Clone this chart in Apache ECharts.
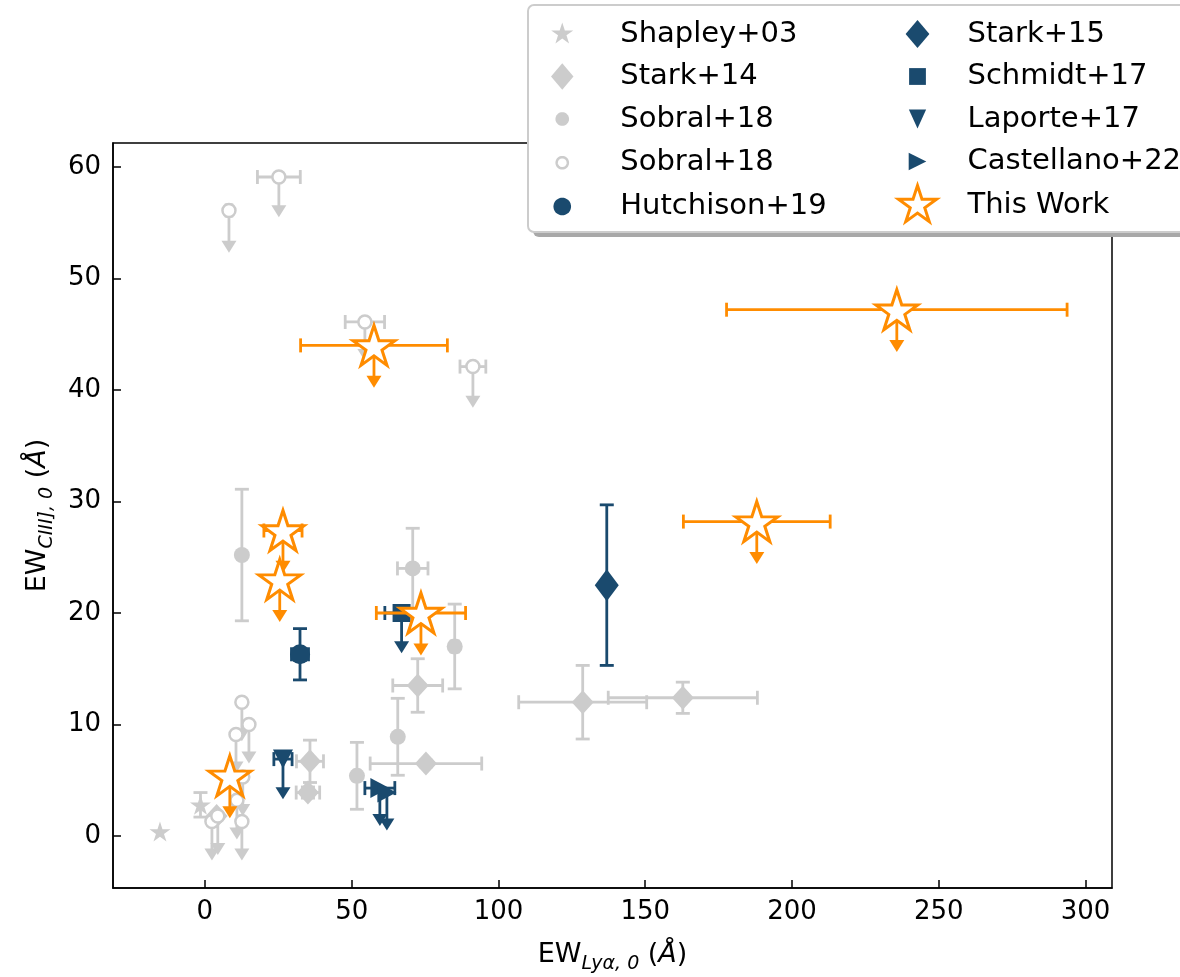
<!DOCTYPE html>
<html>
<head>
<meta charset="utf-8">
<script src="https://cdn.jsdelivr.net/npm/echarts@6/dist/echarts.min.js"></script>
<style>
  html, body { margin: 0; padding: 0; background: #fff; }
  #chart { width: 1180px; height: 977px; }
</style>
</head>
<body>
<div id="chart"></div>
<script>
// each point: [EW_Lya, EW_CIII, xerr, yerr, upper-limit arrow length]
var shapley = [[-15.3, 0.4, 0, 0, 0], [-1.5, 2.8, 0, 1.1, 0]];
var stark14 = [[128.7, 12.0, 21.8, 3.3, 0], [162.8, 12.4, 25.4, 1.4, 0], [72.5, 13.5, 8.5, 2.4, 0],
               [75.3, 6.5, 19.0, 0.3, 0], [35.8, 6.7, 4.6, 1.9, 0], [35.1, 3.9, 4.0, 0.5, 0], [4.0, 1.8, 0, 0, 0]];
var sobral = [[12.6, 25.2, 0, 5.9, 0], [70.8, 24.0, 5.2, 3.6, 0], [85.1, 17.0, 1.2, 3.8, 0],
              [65.7, 8.9, 0, 3.45, 0], [51.8, 5.4, 1.0, 3.0, 0]];
var sobralUL = [[8.2, 56.1, 1.0, 0, 3.8], [25.2, 59.1, 7.3, 0, 3.6], [54.5, 46.1, 6.7, 0, 3.5], [91.3, 42.1, 4.4, 0, 3.7],
                [12.6, 12.0, 0, 0, 3.5], [15.0, 10.0, 0, 0, 3.5], [10.6, 9.1, 0, 0, 3.5], [12.9, 5.3, 0, 0, 3.5],
                [10.9, 3.2, 0, 0, 3.5], [2.4, 1.3, 0, 0, 3.5], [4.4, 1.8, 0, 0, 3.5], [12.6, 1.3, 0, 0, 3.5]];
var hutchison = [[32.4, 16.3, 2.9, 2.3, 0]];
var stark15 = [[136.9, 22.5, 0, 7.2, 0]];
var schmidt = [[67.0, 20.0, 5.7, 0, 3.6]];
var laporte = [[26.6, 6.9, 3.1, 0, 3.6]];
var castellano = [[59.6, 4.3, 5.1, 0, 3.4], [62.0, 3.9, 0, 0, 3.4]];
var thisWork = [[235.7, 47.2, 58, 0, 3.8], [57.6, 44.0, 25, 0, 3.8], [188.0, 28.2, 25, 0, 3.8], [26.6, 27.4, 6.5, 0, 3.8],
                [25.5, 23.0, 0, 0, 3.8], [73.6, 20.0, 15.2, 0, 3.8], [8.5, 5.4, 0, 0, 3.8]];

var xTicks = [0, 50, 100, 150, 200, 250, 300];
var yTicks = [0, 10, 20, 30, 40, 50, 60];

var GRAY = '#cccccc', BLUE = '#1a4a6e', ORANGE = '#ff8c00';
var FONT = 'DejaVu Sans';

// marker shapes in unit coords
var starPts = [];
for (var k = 0; k < 10; k++) {
  var a = (-90 + k * 36) * Math.PI / 180, r = k % 2 ? 0.382 : 1;
  starPts.push([r * Math.cos(a), r * Math.sin(a)]);
}
var circPts = [];
for (var k = 0; k < 36; k++) {
  var a = k * 10 * Math.PI / 180;
  circPts.push([Math.cos(a), Math.sin(a)]);
}
var diamPts = [[0, -1], [0.85, 0], [0, 1], [-0.85, 0]];
var sqPts = [[-1, -1], [1, -1], [1, 1], [-1, 1]];
var downPts = [[-0.9, -1], [0.9, -1], [0, 1]];
var rightPts = [[-1, -1], [1, 0], [-1, 1]];

function shape(pts, s, pad) {
  var d = pts.map(function (p) {
    return (50 + p[0] * s).toFixed(2) + ' ' + (50 + p[1] * s).toFixed(2);
  }).join('L');
  return 'path://' + (pad ? 'M0 0M100 100' : '') + 'M' + d + 'Z';
}
var STAR = shape(starPts, 50, false);
var DOWN = shape(downPts, 50, false);
var RIGHT = shape(rightPts, 50, false);

function errRender(color) {
  return function (params, api) {
    var x = api.value(0), y = api.value(1), xe = api.value(2), ye = api.value(3), ul = api.value(4);
    var c = api.coord([x, y]);
    var st = { stroke: color, lineWidth: 2.8 };
    var cap = 7, kids = [];
    function seg(x1, y1, x2, y2) {
      kids.push({ type: 'line', shape: { x1: x1, y1: y1, x2: x2, y2: y2 }, style: st });
    }
    if (xe > 0) {
      var l = api.coord([x - xe, y])[0], r = api.coord([x + xe, y])[0];
      seg(l, c[1], r, c[1]); seg(l, c[1] - cap, l, c[1] + cap); seg(r, c[1] - cap, r, c[1] + cap);
    }
    if (ye > 0) {
      var t = api.coord([x, y + ye])[1], b = api.coord([x, y - ye])[1];
      seg(c[0], t, c[0], b); seg(c[0] - cap, t, c[0] + cap, t); seg(c[0] - cap, b, c[0] + cap, b);
    }
    if (ul > 0) {
      var e = api.coord([x, y - ul])[1];
      seg(c[0], c[1], c[0], e - 10);
      kids.push({ type: 'polygon', shape: { points: [[c[0] - 7.5, e - 12], [c[0] + 7.5, e - 12], [c[0], e]] },
                  style: { fill: color } });
    }
    return { type: 'group', children: kids };
  };
}

function errSeries(data, color, z) {
  return { type: 'custom', name: 'err', data: data, renderItem: errRender(color),
           encode: { x: 0, y: 1 }, z: z, silent: true };
}
function pts(data) { return data.map(function (d) { return [d[0], d[1]]; }); }
function scat(name, data, symbol, size, style, z) {
  return { type: 'scatter', name: name, data: pts(data), symbol: symbol, symbolSize: size,
           itemStyle: Object.assign({ opacity: 1 }, style), z: z, silent: true };
}

var legendText = { fontSize: 29, fontFamily: FONT, color: '#000' };
var titleRich = {
  n: { fontSize: 27, fontFamily: FONT, color: '#000', lineHeight: 38 },
  s: { fontSize: 19, fontFamily: FONT, fontStyle: 'italic', color: '#000', lineHeight: 22, verticalAlign: 'bottom' },
  i: { fontSize: 27, fontFamily: FONT, fontStyle: 'italic', color: '#000', lineHeight: 38 }
};

var chart = echarts.init(document.getElementById('chart'));
chart.setOption({
  animation: false,
  backgroundColor: '#fff',
  grid: { left: 113, top: 143, right: 68, bottom: 89, show: true, borderColor: '#000', borderWidth: 1.5,
          outerBoundsMode: 'none' },
  xAxis: {
    type: 'value', min: -31.3, max: 309,
    name: '{n|EW}{s|Lyα, 0}{n| (}{i|Å}{n|)}', nameLocation: 'middle', nameGap: 48,
    nameTextStyle: { rich: titleRich },
    axisLine: { onZero: false, lineStyle: { color: '#000', width: 1.5 } },
    axisTick: { inside: true, length: 8, customValues: xTicks, lineStyle: { color: '#000', width: 1.5 } },
    axisLabel: { customValues: xTicks, fontSize: 26, fontFamily: FONT, color: '#000', margin: 11 },
    splitLine: { show: false }
  },
  yAxis: {
    type: 'value', min: -4.66, max: 62.15,
    name: '{n|EW}{s|CIII], 0}{n| (}{i|Å}{n|)}', nameLocation: 'middle', nameGap: 45,
    nameTextStyle: { rich: titleRich },
    axisLine: { onZero: false, lineStyle: { color: '#000', width: 1.5 } },
    axisTick: { inside: true, length: 8, customValues: yTicks, lineStyle: { color: '#000', width: 1.5 } },
    axisLabel: { customValues: yTicks, fontSize: 26, fontFamily: FONT, color: '#000', margin: 12 },
    splitLine: { show: false }
  },
  graphic: [
    { type: 'rect', z: 50, shape: { x: 533, y: 10, width: 700, height: 227, r: 6 }, style: { fill: '#a8a8a8' } },
    { type: 'rect', z: 51, shape: { x: 528, y: 5, width: 700, height: 227, r: 6 },
      style: { fill: '#fff', stroke: GRAY, lineWidth: 2 } }
  ],
  legend: [
    { left: 536, top: 9, orient: 'vertical', itemWidth: 44, itemHeight: 40, itemGap: 2.5, z: 60,
      selectedMode: false, textStyle: Object.assign({ padding: [0, 0, 0, 31] }, legendText),
      formatter: function (n) { return n === 'Sobral+18 UL' ? 'Sobral+18' : n; },
      data: [
        { name: 'Shapley+03', icon: shape(starPts, 29, true) },
        { name: 'Stark+14', icon: shape(diamPts, 33, true) },
        { name: 'Sobral+18', icon: shape(circPts, 17, true) },
        { name: 'Sobral+18 UL', icon: shape(circPts, 14, true), itemStyle: { color: '#fff', borderColor: GRAY, borderWidth: 2.5 } },
        { name: 'Hutchison+19', icon: shape(circPts, 22, true) }
      ] },
    { left: 891, top: 9, orient: 'vertical', itemWidth: 44, itemHeight: 40, itemGap: 2.5, z: 60,
      selectedMode: false, textStyle: Object.assign({ padding: [0, 0, 0, 23] }, legendText),
      data: [
        { name: 'Stark+15', icon: shape(diamPts, 35, true) },
        { name: 'Schmidt+17', icon: shape(sqPts, 21, true) },
        { name: 'Laporte+17', icon: shape(downPts, 24, true) },
        { name: 'Castellano+22', icon: shape(rightPts, 22, true) },
        { name: 'This Work', icon: shape(starPts, 50, true), itemStyle: { color: '#fff', borderColor: ORANGE, borderWidth: 3 } }
      ] }
  ],
  series: [
    errSeries(shapley, GRAY, 2),
    errSeries(stark14, GRAY, 2),
    errSeries(sobral, GRAY, 2),
    errSeries(sobralUL, GRAY, 2),
    scat('Shapley+03', shapley, STAR, [21, 20], { color: GRAY }, 3),
    scat('Stark+14', stark14, 'diamond', [22, 24], { color: GRAY }, 3),
    scat('Sobral+18', sobral, 'circle', 16, { color: GRAY }, 3),
    scat('Sobral+18 UL', sobralUL, 'circle', 13, { color: '#fff', borderColor: GRAY, borderWidth: 2.5 }, 3),
    errSeries(hutchison, BLUE, 4),
    errSeries(stark15, BLUE, 4),
    errSeries(schmidt, BLUE, 4),
    errSeries(laporte, BLUE, 4),
    errSeries(castellano, BLUE, 4),
    scat('Hutchison+19', hutchison, 'circle', 20, { color: BLUE }, 5),
    scat('Stark+15', stark15, 'diamond', [24, 32], { color: BLUE }, 5),
    scat('Schmidt+17', schmidt, 'rect', 18, { color: BLUE }, 5),
    scat('Laporte+17', laporte, DOWN, [20, 19], { color: BLUE }, 5),
    scat('Castellano+22', castellano, RIGHT, [19, 20], { color: BLUE }, 5),
    errSeries(thisWork, ORANGE, 6),
    scat('This Work', thisWork, STAR, [42, 40], { color: '#fff', borderColor: ORANGE, borderWidth: 3 }, 7)
  ]
});
</script>
</body>
</html>
